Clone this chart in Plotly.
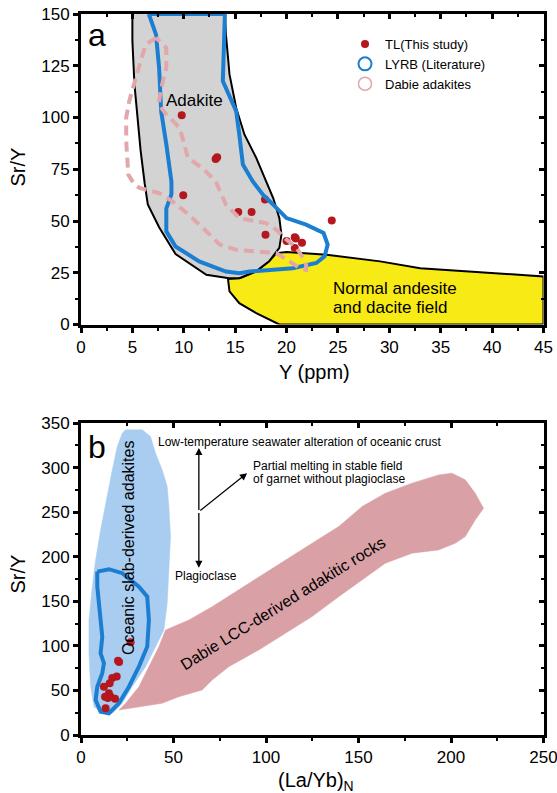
import plotly.graph_objects as go

FONT = "Liberation Sans, Arial, sans-serif"

# ---------------- Panel a : Sr/Y vs Y ----------------
adakite_x = [5.0, 5.0, 5.2, 5.5, 5.8, 6.2, 6.5, 7.6, 9.2, 12.2, 14.4, 15.4, 17.0, 18.3, 19.3, 19.5, 19.3, 18.7, 18.0, 17.05, 15.9, 15.1, 14.45, 14.1, 14.0]
adakite_y = [150, 137, 116, 100, 84, 68, 58, 47, 34, 24, 22.4, 22.4, 25.6, 30.5, 37, 43.4, 51.4, 61.1, 69.2, 80.5, 91.8, 104.6, 120.8, 140.2, 150]

normal_x = [14.3, 15.5, 17.0, 18.3, 19.0, 20.0, 23.9, 29.1, 33.0, 45.0, 45.0, 19.3, 17.05, 15.4, 14.45, 14.3]
normal_y = [22.0, 22.4, 25.6, 30.5, 34.5, 35.0, 33.7, 30.5, 27.2, 23.2, 0, 0, 5.5, 10.3, 16.0, 22.0]

lyrb_a_x = [6.6, 7.3, 7.6, 7.8, 8.3, 8.8, 8.8, 8.3, 8.3, 9.2, 11.5, 14.1, 15.4, 16.4, 18.7, 20.6, 22.9, 23.7, 24.0, 23.6, 21.9, 20.0, 18.7, 17.7, 16.7, 15.75, 15.4, 15.1, 13.8, 14.0, 6.6]
lyrb_a_y = [150, 140, 124, 103, 87, 69, 63, 56, 45, 37.7, 30.5, 25.6, 24.8, 25.6, 26.4, 27.2, 29.7, 32.9, 38.6, 44.2, 48.2, 51.4, 57.9, 62.7, 69.2, 77.3, 91.8, 103, 117.6, 150, 150]

dabie_x = [7.3, 6.3, 5.8, 5.2, 4.7, 4.4, 4.4, 4.6, 5.2, 5.7, 7.6, 8.9, 10.5, 12.2, 13.5, 15.1, 17.7, 19.0, 20.3, 21.3, 21.9, 21.9, 21.6, 21.0, 20.0, 19.0, 18.0, 15.4, 14.1, 13.1, 11.8, 10.4, 10.05, 9.6, 8.3, 7.55, 7.8, 8.3, 8.3, 7.3]
dabie_y = [138.5, 135.3, 127.2, 117.6, 108, 100, 88.5, 72.4, 67.6, 66, 63.5, 59.5, 53, 45, 38.6, 36.1, 35.3, 34.5, 30.5, 27.2, 26.4, 28.9, 32.1, 36.9, 41, 45.8, 49, 51.4, 57.9, 69.2, 75.6, 80.5, 87, 95, 101.5, 106.3, 114.3, 124, 133.7, 138.5]

tl_y_ppm = [9.8, 13.1, 13.25, 9.95, 17.9, 15.3, 16.6, 17.95, 20.0, 20.8, 20.9, 21.5, 24.4, 20.8]
tl_sry = [101.1, 80.0, 80.8, 62.4, 60.4, 54.3, 54.3, 43.4, 40.3, 42.1, 41.5, 39.5, 50.2, 36.9]

# ---------------- Panel b : Sr/Y vs (La/Yb)N ----------------
slab_x = [24.1, 33.1, 37.6, 40.3, 43.9, 46.6, 47.5, 48.4, 47.5, 46.6, 44.8, 34.9, 27.7, 22.3, 16.9, 11.5, 7.0, 5.2, 4.3, 4.3, 6.1, 7.9, 10.6, 13.3, 16.9, 19.6, 22.3, 24.1]
slab_y = [342.3, 342.3, 334.8, 316, 297.4, 278.7, 256.2, 222.6, 185.2, 147.8, 117.8, 76.7, 54.2, 35.6, 24.4, 24.4, 31.8, 54.2, 91.7, 129, 166.4, 196.4, 230, 260, 297.4, 323.6, 338.6, 342.3]

lcc_x = [20.5, 43.9, 52.9, 65.5, 70.9, 79.9, 96.1, 110.5, 124.9, 139.3, 151.9, 164.5, 178.9, 193.3, 202.3, 207.7, 213.1, 217.6, 213.1, 207.7, 200.5, 193.3, 178.9, 164.5, 151.9, 139.3, 124.9, 110.5, 99.7, 85.3, 70.9, 58.3, 45.7, 42.1, 38.5, 31.3, 24.1, 20.5]
lcc_y = [28.1, 35.6, 43, 50.5, 61.7, 76.7, 95.4, 114.1, 132.8, 155.2, 174, 192.7, 203.9, 207.6, 215.1, 222.6, 241.3, 254.4, 271.3, 286.2, 293.7, 291.8, 282.5, 271.3, 256.2, 233.8, 215.1, 196.4, 181.5, 162.7, 144, 129, 117.8, 99.1, 84.2, 54.2, 35.6, 28.1]

lyrb_b_x = [8.8, 15.1, 22.3, 31.3, 35.8, 36.7, 35.8, 31.3, 25.9, 20.5, 15.1, 10.6, 7.9, 8.8, 11.5, 12.4, 10.6, 11.5, 10.6, 9.7, 8.8, 8.8]
lyrb_b_y = [183.3, 186, 181.5, 166.4, 155.2, 129, 99.1, 76.7, 54.2, 35.6, 24.4, 26.2, 39.3, 54.2, 69.2, 80.5, 91.7, 110.3, 129, 147.8, 166.4, 183.3]

tl_layb = [26.8, 20.0, 20.6, 19.3, 16.9, 15.5, 12.4, 15.1, 13.0, 18.4, 16.0, 13.3, 14.5]
tl_sry_b = [104, 83.4, 82.0, 65.5, 64.0, 58.0, 54.2, 46.8, 43.0, 40.7, 43.0, 29.9, 41.5]

BLUE = "#1C7ED0"
RED = "#B5171F"
PINK_LINE = "#E2A7AA"

fig = go.Figure()

# panel a
fig.add_trace(go.Scatter(x=normal_x, y=normal_y, fill="toself", fillcolor="#F8EA14",
                         mode="lines", line=dict(color="black", width=2), showlegend=False, hoverinfo="skip"))
fig.add_trace(go.Scatter(x=adakite_x, y=adakite_y, fill="toself", fillcolor="#D3D3D3",
                         mode="lines", line=dict(color="black", width=2), showlegend=False, hoverinfo="skip"))
fig.add_trace(go.Scatter(x=tl_y_ppm, y=tl_sry, mode="markers", name="TL(This study)",
                         marker=dict(color=RED, size=8), legendrank=1))
fig.add_trace(go.Scatter(x=lyrb_a_x, y=lyrb_a_y, mode="lines", line=dict(color=BLUE, width=4),
                         showlegend=False, hoverinfo="skip"))
fig.add_trace(go.Scatter(x=dabie_x, y=dabie_y, mode="lines",
                         line=dict(color=PINK_LINE, width=4, dash="10px,6px"),
                         showlegend=False, hoverinfo="skip"))
fig.add_trace(go.Scatter(x=[None], y=[None], mode="markers", name="LYRB (Literature)",
                         marker=dict(symbol="circle-open", size=13, color=BLUE, line=dict(width=2)),
                         legendrank=2))
fig.add_trace(go.Scatter(x=[None], y=[None], mode="markers", name="Dabie adakites",
                         marker=dict(symbol="circle-open", size=13, color=PINK_LINE, line=dict(width=1.5)),
                         legendrank=3))
fig.add_trace(go.Scatter(x=[None], y=[None], xaxis="x3", yaxis="y3", showlegend=False, hoverinfo="skip"))

# panel b
fig.add_trace(go.Scatter(x=slab_x, y=slab_y, fill="toself", fillcolor="#A9CDF0", mode="lines",
                         line=dict(color="#A9CDF0", width=0.5), xaxis="x2", yaxis="y2",
                         showlegend=False, hoverinfo="skip"))
fig.add_trace(go.Scatter(x=lcc_x, y=lcc_y, fill="toself", fillcolor="#D9A1A6", mode="lines",
                         line=dict(color="#D9A1A6", width=0.5), xaxis="x2", yaxis="y2",
                         showlegend=False, hoverinfo="skip"))
fig.add_trace(go.Scatter(x=lyrb_b_x, y=lyrb_b_y, mode="lines", line=dict(color=BLUE, width=4),
                         xaxis="x2", yaxis="y2", showlegend=False, hoverinfo="skip"))
fig.add_trace(go.Scatter(x=tl_layb, y=tl_sry_b, mode="markers", marker=dict(color=RED, size=8),
                         xaxis="x2", yaxis="y2", showlegend=False))
fig.add_trace(go.Scatter(x=[None], y=[None], xaxis="x4", yaxis="y4", showlegend=False, hoverinfo="skip"))

XD = [81 / 557, 543.5 / 557]
YD_A = [1 - 324.5 / 793, 1 - 14 / 793]
YD_B = [1 - 735 / 793, 1 - 423 / 793]
TF = dict(family=FONT, size=17, color="black")


def main_axis(rng, dtick, mdtick, domain, anchor, **kw):
    return dict(range=rng, domain=domain, anchor=anchor, dtick=dtick, tick0=0,
                ticks="outside", ticklen=5, tickwidth=2.5, tickcolor="black",
                minor=dict(ticks="outside", ticklen=3, tickwidth=2, dtick=mdtick, tick0=0, tickcolor="black"),
                showline=True, linewidth=3, linecolor="black", mirror=True,
                showgrid=False, zeroline=False, tickfont=TF, automargin=False, fixedrange=True, **kw)


def mirror_axis(rng, dtick, mdtick, overlaying, anchor, side):
    return dict(range=rng, overlaying=overlaying, anchor=anchor, side=side, dtick=dtick, tick0=0,
                ticks="inside", ticklen=5, tickwidth=2.5, tickcolor="black",
                minor=dict(ticks="inside", ticklen=3, tickwidth=2, dtick=mdtick, tick0=0, tickcolor="black"),
                showline=False, showgrid=False, zeroline=False, showticklabels=False,
                automargin=False, fixedrange=True)


fig.update_layout(
    width=557, height=793,
    margin=dict(l=0, r=0, t=0, b=0),
    paper_bgcolor="white", plot_bgcolor="white",
    font=dict(family=FONT, color="black"),
    xaxis=main_axis([0, 45], 5, 2.5, XD, "y", ticklabeloverflow="allow"),
    yaxis=main_axis([0, 150], 25, 12.5, YD_A, "x"),
    xaxis3=mirror_axis([0, 45], 5, 2.5, "x", "y3", "top"),
    yaxis3=mirror_axis([0, 150], 25, 12.5, "y", "x3", "right"),
    xaxis2=main_axis([0, 250], 50, 25, XD, "y2", ticklabeloverflow="allow"),
    yaxis2=main_axis([0, 350], 50, 25, YD_B, "x2"),
    xaxis4=mirror_axis([0, 250], 50, 25, "x2", "y4", "top"),
    yaxis4=mirror_axis([0, 350], 50, 25, "y2", "x4", "right"),
    showlegend=True,
    legend=dict(x=345 / 557, y=1 - 29 / 793, xanchor="left", yanchor="top",
                font=dict(family=FONT, size=13, color="black"), bgcolor="rgba(0,0,0,0)",
                tracegroupgap=0, itemclick=False),
)

anns = []
P = dict(xref="paper", yref="paper", xanchor="center", yanchor="middle", showarrow=False)
# axis titles
anns.append(dict(text="Sr/Y", x=17.5 / 557, y=1 - 167 / 793, textangle=-90, font=dict(size=20), **P))
anns.append(dict(text="Sr/Y", x=17.5 / 557, y=1 - 574 / 793, textangle=-90, font=dict(size=20), **P))
anns.append(dict(text="Y (ppm)", x=314 / 557, y=1 - 372 / 793, font=dict(size=20), **P))
anns.append(dict(text="(La/Yb)<sub>N</sub>", x=316 / 557, y=1 - 781 / 793, font=dict(size=20), **P))
# panel a text
anns.append(dict(text="a", x=1.6, y=140, xref="x", yref="y", showarrow=False, font=dict(size=32)))
anns.append(dict(text="Adakite", x=11.0, y=108, xref="x", yref="y", showarrow=False, font=dict(size=17)))
anns.append(dict(text="Normal andesite", x=24.3, y=17.4, xref="x", yref="y", xanchor="left",
                 showarrow=False, font=dict(size=17)))
anns.append(dict(text="and dacite field", x=24.3, y=8.2, xref="x", yref="y", xanchor="left",
                 showarrow=False, font=dict(size=17)))
# panel b text
anns.append(dict(text="b", x=8.6, y=323, xref="x2", yref="y2", showarrow=False, font=dict(size=32)))
anns.append(dict(text="Low-temperature seawater alteration of oceanic crust", x=40.5, y=329, xref="x2", yref="y2",
                 xanchor="left", showarrow=False, font=dict(size=12)))
anns.append(dict(text="Partial melting in stable field", x=92, y=301.5, xref="x2", yref="y2",
                 xanchor="left", showarrow=False, font=dict(size=12)))
anns.append(dict(text="of garnet without plagioclase", x=92, y=287.5, xref="x2", yref="y2",
                 xanchor="left", showarrow=False, font=dict(size=12)))
anns.append(dict(text="Plagioclase", x=67.5, y=178.8, xref="x2", yref="y2", showarrow=False, font=dict(size=12)))
anns.append(dict(text="Oceanic slab-derived adakites", x=26.0, y=210, xref="x2", yref="y2", textangle=-90,
                 showarrow=False, font=dict(size=16)))
anns.append(dict(text="Dabie LCC-derived adakitic rocks", x=109, y=148, xref="x2", yref="y2", textangle=-31.8,
                 showarrow=False, font=dict(size=16)))
# arrows
arrow_origin = (63.7, 250.6)
arrow_ends = [(63.7, 322), (63.7, 187.5), (89.8, 293.7)]
for ex, ey in arrow_ends:
    anns.append(dict(x=ex, y=ey, ax=arrow_origin[0], ay=arrow_origin[1], xref="x2", yref="y2",
                     axref="x2", ayref="y2", showarrow=True, arrowhead=2, arrowsize=1.1,
                     arrowwidth=1.3, arrowcolor="black", text=""))
fig.update_layout(annotations=anns)

fig.write_html("out.html")
